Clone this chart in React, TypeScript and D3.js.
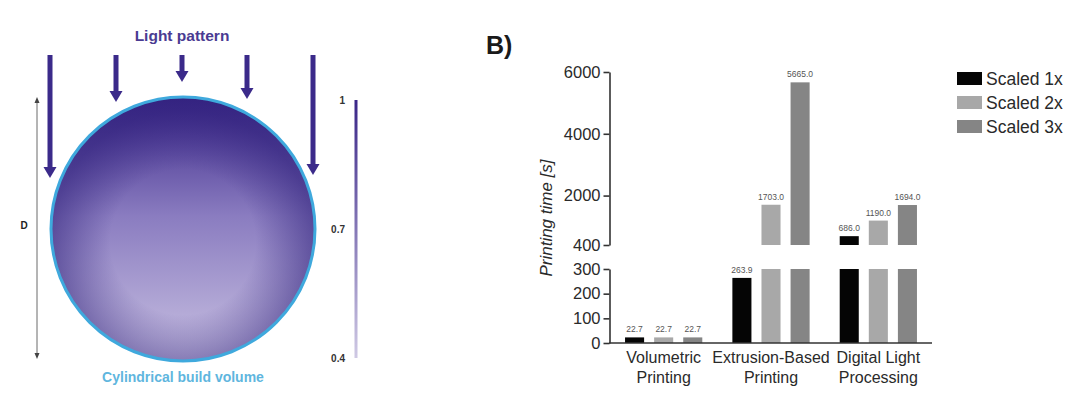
import { useEffect, useRef } from 'react';
import * as d3 from 'd3';

// bar chart data
const groups = ['Volumetric Printing', 'Extrusion-Based Printing', 'Digital Light Processing'];
const groupLines = [['Volumetric', 'Printing'], ['Extrusion-Based', 'Printing'], ['Digital Light', 'Processing']];
const series = ['Scaled 1x', 'Scaled 2x', 'Scaled 3x'];
const scaled1x = [22.7, 263.9, 686.0];
const scaled2x = [22.7, 1703.0, 1190.0];
const scaled3x = [22.7, 5665.0, 1694.0];
const upperTicks = [400, 2000, 4000, 6000];
const lowerTicks = [0, 100, 200, 300];
// diagram scale bar labels
const intensityTicks = [1, 0.7, 0.4];

const colors = ['#050505', '#a8a8a8', '#858585'];
const FONT = 'Arial, "Liberation Sans", Helvetica, sans-serif';

export default function App() {
  const hiRef = useRef<SVGGElement>(null);
  const loRef = useRef<SVGGElement>(null);

  const values = [scaled1x, scaled2x, scaled3x];
  const x0 = d3.scaleBand<string>().domain(groups).range([610, 932]);
  const x1 = d3.scaleBand<string>().domain(series).range([0, x0.bandwidth()])
    .paddingInner(0.345).paddingOuter(0.517);
  const yHi = d3.scaleLinear().domain([400, 6000]).range([245, 72]);
  const yLo = d3.scaleLinear().domain([0, 300]).range([343, 269]);
  const intensity = d3.scaleLinear().domain([1, 0.4]).range([100, 358]);

  useEffect(() => {
    const style = (g: d3.Selection<SVGGElement, unknown, null, undefined>) => {
      g.select('.domain').attr('stroke', '#333').attr('stroke-width', 1.6);
      g.selectAll('.tick line').attr('stroke', '#333').attr('stroke-width', 1.6);
      g.selectAll('.tick text').attr('fill', '#2a2a2a').style('font-size', '16.5px').style('font-family', FONT);
    };
    const hi = d3.select(hiRef.current!);
    hi.call(d3.axisLeft(yHi).tickValues(upperTicks).tickSize(6).tickSizeOuter(0).tickPadding(3).tickFormat(d3.format('d')));
    style(hi);
    const lo = d3.select(loRef.current!);
    lo.call(d3.axisLeft(yLo).tickValues(lowerTicks).tickSize(6).tickSizeOuter(0).tickPadding(3).tickFormat(d3.format('d')));
    style(lo);
  }, []);

  const bars: JSX.Element[] = [];
  groups.forEach((g, gi) => {
    series.forEach((s, si) => {
      const v = values[si][gi];
      const bx = x0(g)! + x1(s)!;
      const bw = x1.bandwidth();
      bars.push(
        <rect key={`lo-${gi}-${si}`} x={bx} width={bw} y={yLo(Math.min(v, 300))}
          height={yLo(0) - yLo(Math.min(v, 300))} fill={colors[si]} />
      );
      if (v > 400) {
        bars.push(
          <rect key={`hi-${gi}-${si}`} x={bx} width={bw} y={yHi(v)}
            height={yHi(400) - yHi(v)} fill={colors[si]} />
        );
      }
      const ty = (v > 400 ? yHi(v) : yLo(v)) - 5;
      bars.push(
        <text key={`t-${gi}-${si}`} x={bx + bw / 2} y={ty} textAnchor="middle"
          fontSize={8.5} fill="#555">{v.toFixed(1)}</text>
      );
    });
  });

  const arrows = [
    { x: 50, y2: 178 },
    { x: 116, y2: 102 },
    { x: 182, y2: 82 },
    { x: 247, y2: 99 },
    { x: 313, y2: 175 },
  ];

  return (
    <svg width={1080} height={398} style={{ position: 'fixed', left: 0, top: 0, background: '#fff' }}
      fontFamily={FONT}>
      <defs>
        <linearGradient id="fillG" x1="0" y1="0" x2="0" y2="1">
          <stop offset="0" stopColor="#3a2688" />
          <stop offset="0.45" stopColor="#8a7cc0" />
          <stop offset="1" stopColor="#c9c1e2" />
        </linearGradient>
        <radialGradient id="edgeG" cx="0.5" cy="0.55" r="0.5">
          <stop offset="0.55" stopColor="#2e1f7a" stopOpacity="0" />
          <stop offset="1" stopColor="#2e1f7a" stopOpacity="0.55" />
        </radialGradient>
        <linearGradient id="barG" x1="0" y1="0" x2="0" y2="1">
          <stop offset="0" stopColor="#3a2688" />
          <stop offset="1" stopColor="#cfc9e4" />
        </linearGradient>
      </defs>
      <rect width={1080} height={398} fill="#fff" />

      {/* left diagram */}
      <text x={182} y={41} textAnchor="middle" fontSize={15.5} fontWeight="bold" fill="#4a3b92">Light pattern</text>
      <circle cx={183} cy={229} r={132} fill="url(#fillG)" />
      <circle cx={183} cy={229} r={132} fill="url(#edgeG)" stroke="#3fa9dd" strokeWidth={3} />
      {arrows.map((a, i) => (
        <g key={i} fill="#3b2a8a">
          <rect x={a.x - 2.5} y={55} width={5} height={a.y2 - 55 - 10} />
          <path d={`M${a.x - 6.5},${a.y2 - 11} L${a.x + 6.5},${a.y2 - 11} L${a.x},${a.y2} Z`} />
        </g>
      ))}
      <line x1={37} x2={37} y1={99} y2={357} stroke="#444" strokeWidth={0.8} />
      <path d="M34.5,103 L37,97 L39.5,103 Z" fill="#444" />
      <path d="M34.5,353 L37,359 L39.5,353 Z" fill="#444" />
      <text x={24} y={229} textAnchor="middle" fontSize={10} fontWeight="bold" fill="#222">D</text>
      <rect x={354.5} y={intensity(1)} width={3} height={intensity(0.4) - intensity(1)} fill="url(#barG)" />
      {intensityTicks.map((t) => (
        <text key={t} x={345} y={intensity(t) + 4} textAnchor="end" fontSize={10} fontWeight="bold" fill="#333">{String(t)}</text>
      ))}
      <text x={183} y={382} textAnchor="middle" fontSize={14} fontWeight="bold" fill="#5fb6de">Cylindrical build volume</text>

      {/* right chart */}
      <text x={486} y={54} fontSize={25} fontWeight="bold" fill="#1a1a1a">B)</text>
      <text transform="translate(552,218) rotate(-90)" textAnchor="middle" fontSize={17} fontStyle="italic" fill="#2a2a2a">Printing time [s]</text>
      <g ref={hiRef} transform="translate(609.5,0)" />
      <g ref={loRef} transform="translate(609.5,0)" />
      {bars}
      <line x1={609} x2={932} y1={yLo(0)} y2={yLo(0)} stroke="#333" strokeWidth={1.6} />
      {groups.map((g, gi) => (
        <text key={g} x={x0(g)! + x0.bandwidth() / 2} textAnchor="middle" fontSize={16} fill="#2a2a2a">
          <tspan x={x0(g)! + x0.bandwidth() / 2} y={363}>{groupLines[gi][0]}</tspan>
          <tspan x={x0(g)! + x0.bandwidth() / 2} y={383}>{groupLines[gi][1]}</tspan>
        </text>
      ))}
      {series.map((s, si) => (
        <g key={s} transform={`translate(957,${72 + si * 24})`}>
          <rect width={25} height={13} fill={colors[si]} />
          <text x={29} y={12.5} fontSize={17.5} fill="#2a2a2a">{s}</text>
        </g>
      ))}
    </svg>
  );
}
